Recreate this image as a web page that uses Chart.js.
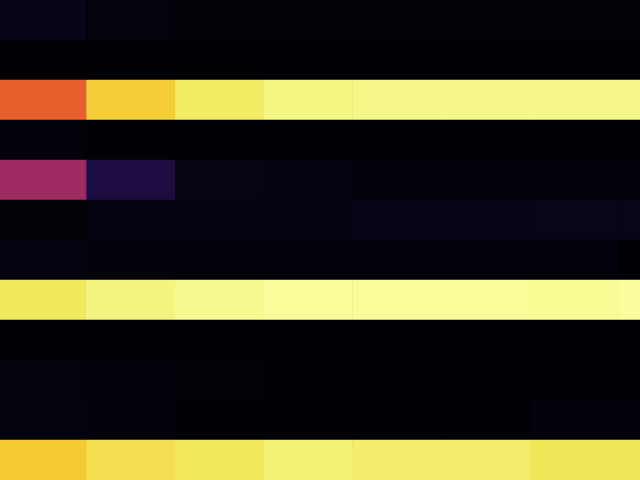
<!DOCTYPE html>
<html>
<head>
<meta charset="utf-8">
<script src="https://cdn.jsdelivr.net/npm/chart.js@4/dist/chart.umd.min.js"></script>
<style>
html,body{margin:0;padding:0;background:#000004;}
#wrap{width:640px;height:480px;}
</style>
</head>
<body>
<div id="wrap"><canvas id="c" width="640" height="480"></canvas></div>
<script>
// Column categories (x) and row categories (y)
const columns = ["c1","c2","c3","c4","c5","c6","c7","c8"];
const rowLabels = ["r1","r2","r3","r4","r5","r6","r7","r8","r9","r10","r11","r12"];

// Cell values (0..1), one array per row, left to right
const row1  = [0.040, 0.018, 0.007, 0.007, 0.007, 0.007, 0.007, 0.007];
const row2  = [0.002, 0.000, 0.000, 0.000, 0.000, 0.000, 0.000, 0.000];
const row3  = [0.640, 0.885, 0.945, 0.970, 0.975, 0.975, 0.975, 0.975];
const row4  = [0.011, 0.003, 0.002, 0.001, 0.001, 0.001, 0.001, 0.001];
const row5  = [0.425, 0.120, 0.032, 0.021, 0.010, 0.010, 0.010, 0.010];
const row6  = [0.007, 0.025, 0.030, 0.030, 0.037, 0.037, 0.044, 0.044];
const row7  = [0.025, 0.014, 0.010, 0.010, 0.010, 0.010, 0.010, 0.000];
const row8  = [0.940, 0.968, 0.982, 0.990, 0.990, 0.990, 0.987, 0.993];
const row9  = [0.004, 0.000, 0.000, 0.000, 0.000, 0.000, 0.000, 0.000];
const row10 = [0.018, 0.014, 0.005, 0.001, 0.001, 0.003, 0.003, 0.000];
const row11 = [0.018, 0.016, 0.004, 0.004, 0.004, 0.004, 0.014, 0.014];
const row12 = [0.880, 0.918, 0.940, 0.958, 0.950, 0.950, 0.935, 0.935];
const rows = [row1,row2,row3,row4,row5,row6,row7,row8,row9,row10,row11,row12];

// Inferno colormap stops
const stops = [
  [0.000, [0,0,4]],
  [0.0625,[10,7,34]],
  [0.125, [30,12,69]],
  [0.25,  [87,16,110]],
  [0.375, [137,34,106]],
  [0.5,   [188,55,84]],
  [0.625, [228,90,49]],
  [0.75,  [249,142,9]],
  [0.875, [245,200,49]],
  [0.94,  [241,234,95]],
  [0.97,  [244,246,130]],
  [1.0,   [252,255,164]]
];
function inferno(v){
  v = Math.max(0, Math.min(1, v));
  for (let i = 1; i < stops.length; i++) {
    if (v <= stops[i][0]) {
      const [a, ca] = stops[i-1], [b, cb] = stops[i];
      const t = (v - a) / (b - a);
      const c = ca.map((x, k) => Math.round(x + (cb[k] - x) * t));
      return `rgb(${c[0]},${c[1]},${c[2]})`;
    }
  }
  return 'rgb(252,255,164)';
}

const datasets = columns.map((name, ci) => ({
  label: name,
  data: rowLabels.map(() => [ci - 0.5, ci + 0.5]),
  backgroundColor: rows.map(r => inferno(r[ci])),
  borderWidth: 0,
  barPercentage: 1,
  categoryPercentage: 1
}));

new Chart(document.getElementById('c'), {
  type: 'bar',
  data: { labels: rowLabels, datasets },
  options: {
    indexAxis: 'y',
    responsive: false,
    animation: false,
    layout: { padding: 0 },
    plugins: { legend: { display: false }, tooltip: { enabled: false }, title: { display: false } },
    scales: {
      x: { type: 'linear', min: -0.468, max: 6.737, display: false, stacked: false },
      y: { type: 'category', display: false, stacked: true, offset: true }
    }
  }
});
</script>
</body>
</html>
